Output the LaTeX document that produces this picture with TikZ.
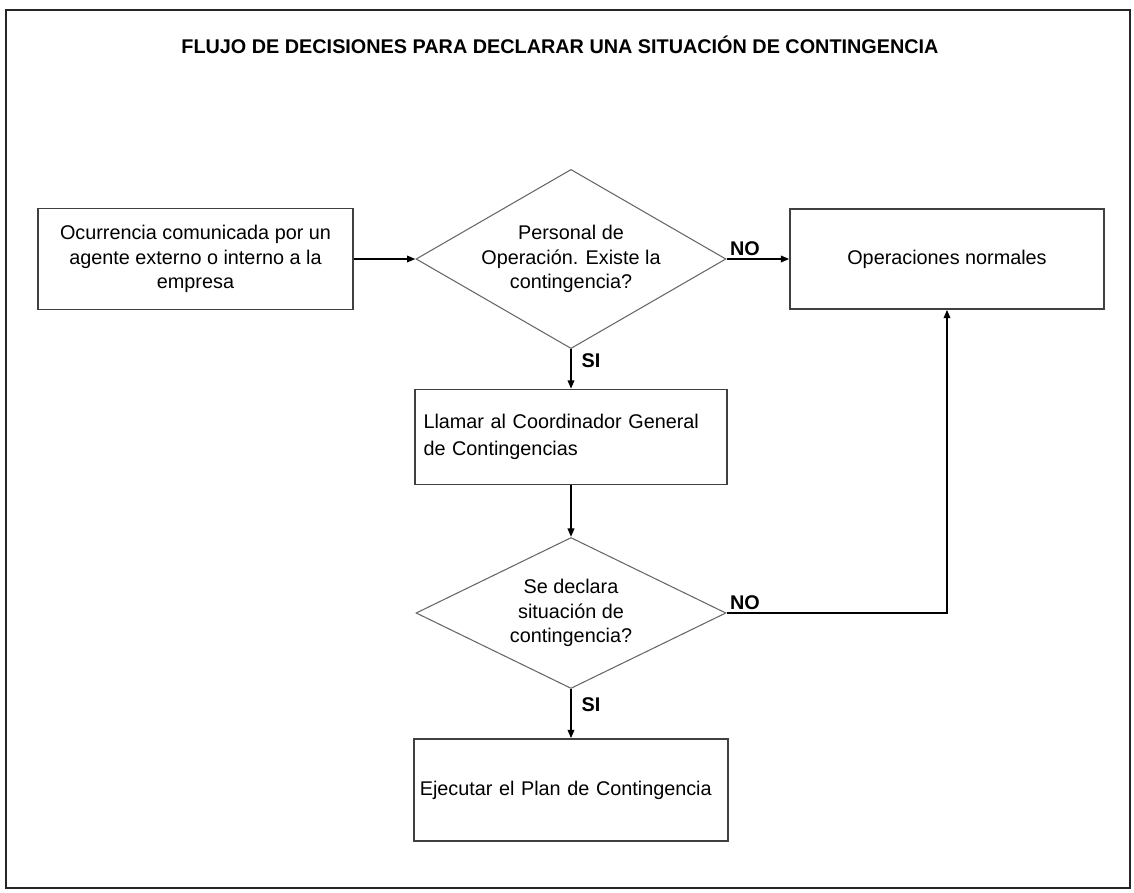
\documentclass[tikz,border=0pt]{standalone}
\usepackage{fontspec}
\setmainfont{Liberation Sans}
\usetikzlibrary{arrows.meta, shapes.geometric}

% diamond text: kept out of the shape's size
\newcommand{\qtext}[1]{\smash{\raisebox{-0.25em}{\begin{tabular}{@{}c@{}}#1\end{tabular}}}}

\begin{document}
\begin{tikzpicture}[
      x = 0.02cm, y = -0.02cm, font = \fontsize{11.28}{14}\selectfont,
      frame/.style = {draw = black!85, line width = 1.4pt},
      box/.style   = {draw = black!75, line width = .8pt, rectangle, inner sep = 0pt},
      decision/.style = {diamond, draw = black!60, line width = .6pt, inner sep = 0pt,
                         minimum width = 6.2cm, minimum height = 3.02cm},
      arr/.style   = {-{Triangle[length = 1.7mm, width = 1.3mm]}, line width = 1.1pt},
      lbl/.style   = {font = \fontsize{11.28}{14}\selectfont\bfseries, inner sep = 1.5pt}
    ]

  \useasboundingbox (0,0) rectangle (1134,893);
  \draw[frame] (6,10) rectangle (1130,888);

  % title ---------------------------------------------------------------
  \node[font = \fontsize{11.28}{14}\selectfont\bfseries] (title) at (560,45)
        {FLUJO DE DECISIONES PARA DECLARAR UNA SITUACIÓN DE CONTINGENCIA};

  % nodes -----------------------------------------------------------------
  \node[box, minimum width = 6.3cm, minimum height = 2.02cm, align = center] (aviso)
        at (195.5,259) {Ocurrencia comunicada por un\\agente externo o interno a la\\empresa};
  \node[decision] (existe) at (571,259)
        {\qtext{Personal de\\Operación. Existe la\\contingencia?}};
  \node[box, minimum width = 6.28cm, minimum height = 2cm] (normal) at (947,259)
        {Operaciones normales};
  \node[box, minimum width = 6.24cm, minimum height = 1.9cm, text width = 5.9cm,
        align = left] (llamar) at (571,437)
        {Llamar al Coordinador General\\[1pt]de Contingencias};
  \node[decision] (declara) at (571,613)
        {\qtext{Se declara\\situación de\\contingencia?}};
  \node[box, minimum width = 6.28cm, minimum height = 2.04cm, text width = 6.05cm,
        align = left] (plan) at (571,790)
        {Ejecutar el Plan de Contingencia};

  % connectors -----------------------------------------------------------
  \draw[arr] (aviso.east) -- (existe.west);
  \draw[arr] (existe.east) -- node[lbl, above right, pos = 0] {NO} (normal.west);
  \draw[arr] (existe.south) -- node[lbl, right, pos = .3, xshift = 4pt] {SI} (llamar.north);
  \draw[arr] (llamar.south) -- (declara.north);
  \draw[arr] (declara.east) -- node[lbl, above right, pos = 0] {NO} ++(0,0) -| (normal.south);
  \draw[arr] (declara.south) -- node[lbl, right, pos = .31, xshift = 4pt] {SI} (plan.north);

\end{tikzpicture}
\end{document}
